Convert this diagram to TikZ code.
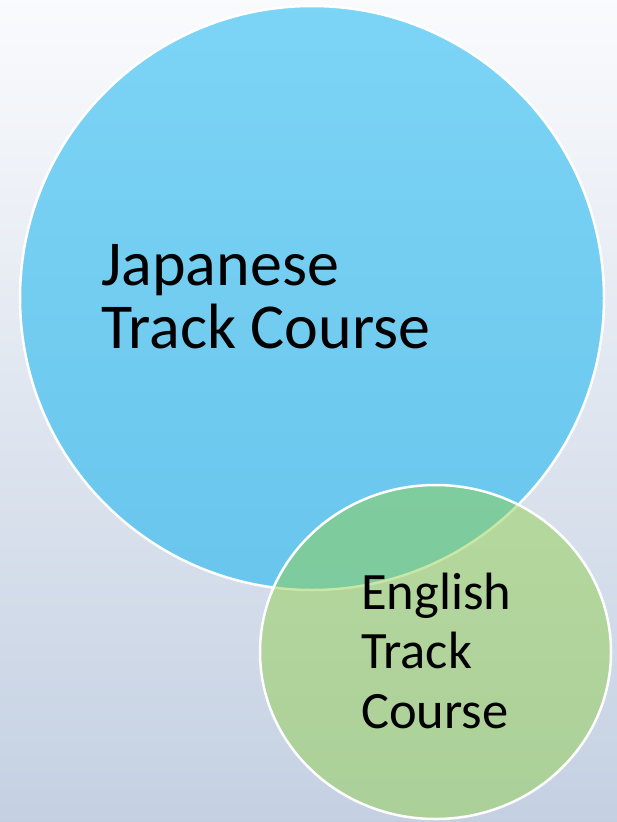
\documentclass[tikz,border=0pt]{standalone}
\usepackage{fontspec}
\setmainfont{Carlito}
\usetikzlibrary{shapes.geometric}
\definecolor{jpblue}{HTML}{00B0F0}
\definecolor{engreen}{HTML}{92D050}
\definecolor{bgtop}{HTML}{FAFBFD}
\definecolor{bgbottom}{HTML}{C4D0E2}
\begin{document}
\begin{tikzpicture}[x=1pt,y=-1pt,
  ring/.style={draw=white,line width=2.5pt,inner sep=0pt,outer sep=0pt},
  jpset/.style={ring,circle,fill=jpblue,fill opacity=0.5,minimum size=584pt},
  enset/.style={ring,ellipse,fill=engreen,fill opacity=0.5,minimum width=351pt,minimum height=334pt},
  setname/.style={align=left,anchor=base west,inner sep=0pt,text=black}]
\useasboundingbox (0,0) rectangle (616,822);
\shade[top color=bgtop,bottom color=bgbottom] (-4,-4) rectangle (620,826);
\node[jpset] (J) at (312,298) {};
\node[enset] (E) at (435.5,652) {};
\node[setname,font=\fontsize{64}{63}\selectfont] (JL) at (101,348) {Japanese\\Track Course};
\node[setname,font=\fontsize{52.5}{59.5}\selectfont] (EL) at (361,728) {English\\Track\\Course};
\end{tikzpicture}
\end{document}
